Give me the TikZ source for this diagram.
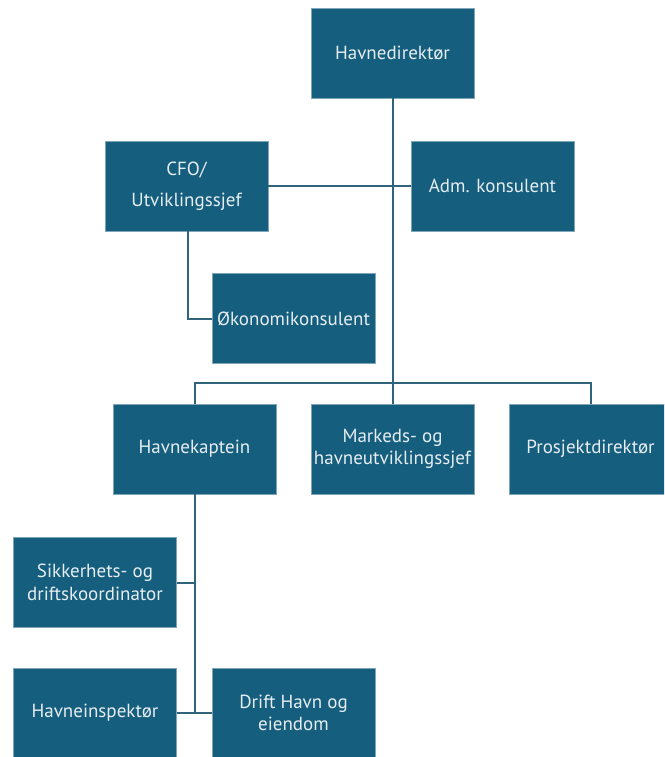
\documentclass[tikz,border=0pt]{standalone}
\usepackage{fontspec}
\setmainfont{PT Sans}
\definecolor{boxfill}{HTML}{155E7E}
\definecolor{boxedge}{HTML}{7FA6B8}
\definecolor{linec}{HTML}{30637C}
\definecolor{txt}{HTML}{E6EDF1}
\tikzset{
  orgbox/.style={draw=boxedge, line width=0.8pt, fill=boxfill, minimum width=163pt, minimum height=90pt,
    inner sep=1pt, text=txt, align=center, font=\fontsize{19}{22.5}\selectfont},
  conn/.style={draw=linec, line width=2pt}
}
\begin{document}
\begin{tikzpicture}[x=1pt, y=-1pt]
\useasboundingbox (0,0) rectangle (664,757);
\clip (0,0) rectangle (664,757);
\fill[white] (0,0) rectangle (664,757);
\coordinate (busL) at (195,383);
\coordinate (busR) at (591,383);
\coordinate (cfoturn) at (188,318.5);
\coordinate (sikj) at (195,582.5);
\coordinate (hij) at (195,713);
\node[orgbox] (hd) at (392.5,53) {Havnedirektør};
\node[orgbox] (cfo) at (186.5,186) {CFO/\\[9pt]Utviklingssjef};
\node[orgbox] (adm) at (492.5,186) {Adm. konsulent};
\node[orgbox] (oko) at (293.5,318.5) {Økonomikonsulent};
\node[orgbox] (hk) at (194.5,449) {Havnekaptein};
\node[orgbox] (mk) at (392.5,449) {Markeds- og\\havneutviklingssjef};
\node[orgbox] (pd) at (590.5,449) {Prosjektdirektør};
\node[orgbox] (sik) at (95,582.5) {Sikkerhets- og\\driftskoordinator};
\node[orgbox] (hi) at (95,713) {Havneinspektør};
\node[orgbox] (dh) at (293.5,713) {Drift Havn og\\eiendom};
\draw[conn] (hd.south) -- (mk.north);
\draw[conn] (cfo.east) -- (adm.west);
\draw[conn] (cfo.south -| cfoturn) -- (cfoturn) -- (oko.west);
\draw[conn] (hk.north -| busL) -- (busL) -- (busR) -- (pd.north -| busR);
\draw[conn] (hk.south -| busL) -- (hij);
\draw[conn] (sik.east) -- (sikj);
\draw[conn] (hi.east) -- (dh.west);
\end{tikzpicture}
\end{document}
